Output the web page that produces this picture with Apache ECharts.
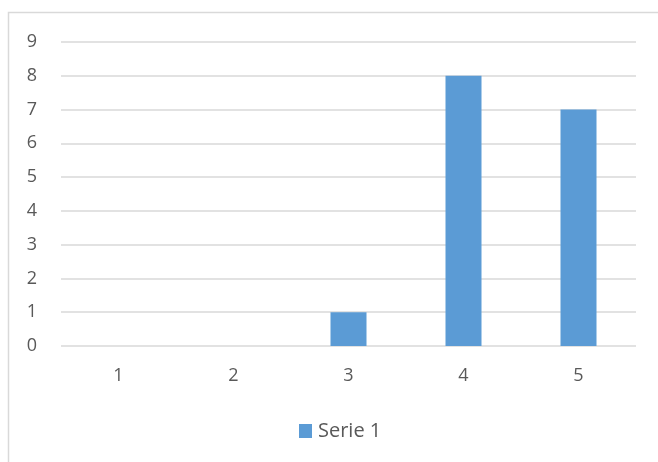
<!DOCTYPE html>
<html><head><meta charset="utf-8">
<script src="https://cdn.jsdelivr.net/npm/echarts@6/dist/echarts.min.js"></script>
<style>html,body{margin:0;padding:0;background:#fff}#c{width:658px;height:462px}</style>
</head><body><div id="c"></div>
<script>
const categories = ['1','2','3','4','5'];
const seriesName = 'Serie 1';
const values = [0, 0, 1, 8, 7];
const yTicks = {min: 0, max: 9, interval: 1};

const chart = echarts.init(document.getElementById('c'));
const font = '"Open Sans", "Liberation Sans", sans-serif';
chart.setOption({
  animation: false,
  graphic: [{type:'rect', shape:{x:8.5, y:12.5, width:700, height:500}, style:{fill:'none', stroke:'#d9d9d9', lineWidth:1.5}, silent:true}],
  grid: {left: 61, right: 22, top: 42, bottom: 116, containLabel: false},
  legend: {top: 421, left: 299, padding: 0, itemWidth: 13, itemHeight: 14, itemGap: 5, icon: 'rect',
    textStyle: {color: '#595959', fontSize: 20, fontFamily: font, padding: [0,0,0,1]}, data: [seriesName]},
  xAxis: {type: 'category', data: categories,
    axisLine: {show: false}, axisTick: {show: false},
    axisLabel: {color: '#595959', fontSize: 18, fontFamily: font, margin: 21}},
  yAxis: {type: 'value', min: yTicks.min, max: yTicks.max, interval: yTicks.interval,
    axisLine: {show: false}, axisTick: {show: false},
    splitLine: {lineStyle: {color: '#d9d9d9', width: 1.5}},
    axisLabel: {color: '#595959', fontSize: 18, fontFamily: font, margin: 24}},
  series: [{name: seriesName, type: 'bar', data: values, barWidth: 36,
    itemStyle: {color: '#5b9bd5'}}]
});
</script></body></html>
